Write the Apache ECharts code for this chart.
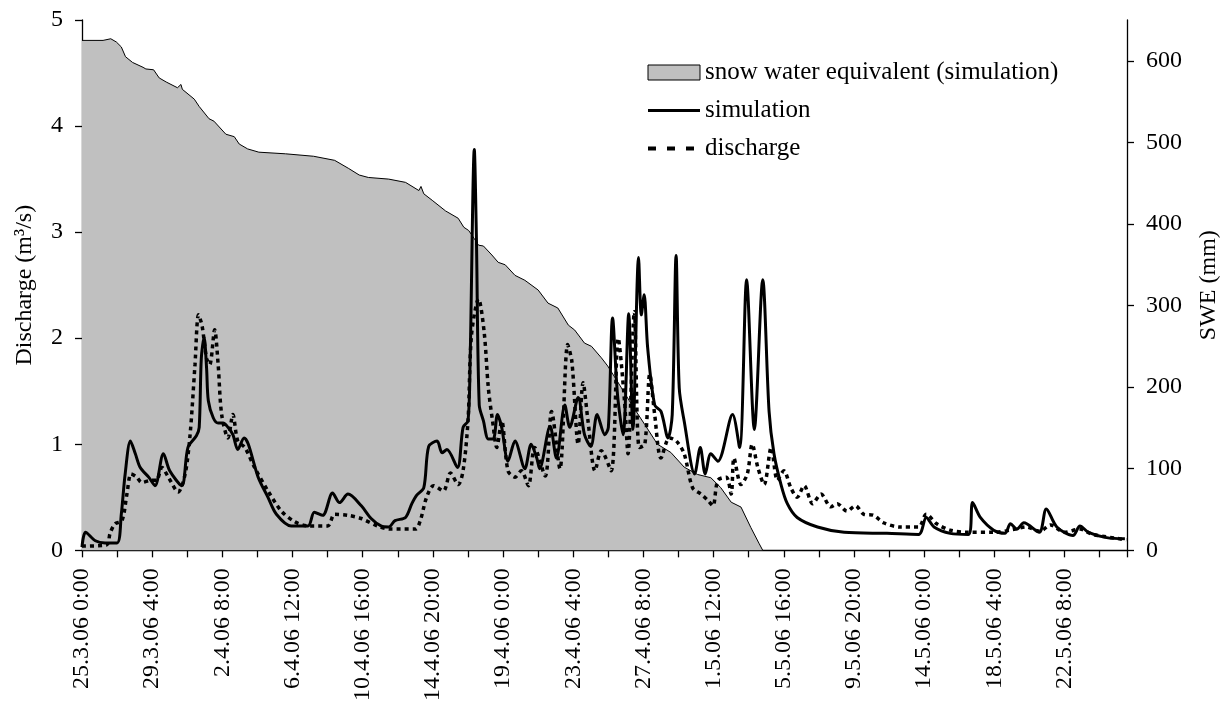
<!DOCTYPE html>
<html>
<head>
<meta charset="utf-8">
<title>Discharge and SWE</title>
<script src="https://cdn.jsdelivr.net/npm/echarts@6/dist/echarts.min.js"></script>
<style>
  html, body { margin: 0; padding: 0; background: #fff; }
  #chart { width: 1229px; height: 704px; }
</style>
</head>
<body>
<div id="chart"></div>
<script>
// x values are hours since 25.3.06 0:00
const tickLabels = [
  "25.3.06 0:00", "29.3.06 4:00", "2.4.06 8:00", "6.4.06 12:00", "10.4.06 16:00",
  "14.4.06 20:00", "19.4.06 0:00", "23.4.06 4:00", "27.4.06 8:00", "1.5.06 12:00",
  "5.5.06 16:00", "9.5.06 20:00", "14.5.06 0:00", "18.5.06 4:00", "22.5.06 8:00"
];

// snow water equivalent (mm), right axis
const swe = [
  [0, 625], [30, 625], [41, 627], [49, 623], [56, 617], [62, 605], [72, 598], [87, 592],
  [91, 590], [102, 589], [110, 579], [120, 574], [136, 567], [141, 571], [143, 565],
  [160, 553], [167, 544], [181, 529], [188, 526], [205, 510], [217, 507], [224, 498],
  [236, 492], [252, 488], [290, 486], [330, 483], [360, 478], [380, 468], [395, 460],
  [408, 457], [437, 455], [461, 451], [480, 441], [483, 446], [487, 437], [499, 429],
  [518, 416], [536, 407], [544, 396], [551, 392], [559, 382], [565, 374], [572, 373],
  [584, 362], [593, 353], [603, 350], [617, 337], [631, 331], [650, 319], [664, 303],
  [678, 297], [693, 276], [702, 270], [716, 254], [726, 250], [740, 236], [749, 226],
  [768, 200], [783, 179], [802, 154], [820, 130], [839, 120], [858, 102], [877, 93],
  [896, 89], [910, 77], [925, 59], [939, 53], [953, 28], [965, 8], [970, 0]
];

// simulated discharge (m3/s)
const simulation = [
  [0, 0.03], [5, 0.17], [19, 0.09], [33, 0.07], [50, 0.07], [56, 0.34], [61.5, 0.72],
  [69, 1.03], [76, 0.91], [83, 0.78], [95, 0.69], [104, 0.61], [116, 0.91], [125, 0.75],
  [142, 0.61], [151, 0.97], [163, 1.08], [167, 1.16], [170, 1.81], [174, 2.01],
  [177.5, 1.72], [180, 1.41], [187, 1.25], [194, 1.2], [201, 1.2], [208, 1.16],
  [215, 1.09], [222, 0.95], [231, 1.06], [237, 1.0], [251, 0.69], [265, 0.5], [277, 0.34],
  [298, 0.23], [322, 0.23], [331, 0.36], [343, 0.33], [357, 0.54], [367, 0.45],
  [379, 0.53], [398, 0.42], [412, 0.3], [426, 0.23], [437, 0.22], [446, 0.28],
  [461, 0.31], [470, 0.44], [477, 0.52], [487, 0.59], [494, 0.98], [506, 1.03],
  [513, 0.92], [520, 0.95], [535, 0.78], [543, 1.16], [550, 1.22], [553, 1.78],
  [559, 3.78], [562, 2.94], [566, 1.37], [572, 1.22], [579, 1.05], [586, 1.05],
  [592, 1.28], [598, 1.16], [607, 0.84], [617, 1.03], [631, 0.77], [640, 1.0],
  [648, 0.87], [652, 0.77], [667, 1.17], [676, 0.87], [688, 1.37], [695, 1.16],
  [707, 1.44], [716, 1.09], [725, 0.98], [734, 1.28], [745, 1.09], [750, 1.16],
  [756, 2.19], [763, 1.47], [771, 1.09], [779, 2.23], [785, 1.14], [793, 2.76],
  [797, 2.22], [801, 2.41], [806, 1.91], [816, 1.37], [825, 1.31], [835, 1.06],
  [841, 1.28], [846.5, 2.78], [851, 1.53], [858, 1.22], [873, 0.72], [881, 0.97],
  [888, 0.72], [896, 0.91], [906, 0.84], [927, 1.28], [937, 0.97], [947, 2.55],
  [958, 1.14], [970, 2.55], [979, 1.31], [986, 0.91], [996, 0.62], [1005, 0.44],
  [1019, 0.31], [1048, 0.22], [1086, 0.17], [1147, 0.16], [1192, 0.15], [1203, 0.31],
  [1214, 0.22], [1237, 0.16], [1263, 0.15], [1269, 0.45], [1280, 0.31], [1299, 0.19],
  [1315, 0.16], [1323, 0.25], [1332, 0.2], [1342, 0.26], [1364, 0.17], [1374, 0.39],
  [1389, 0.22], [1412, 0.14], [1422, 0.23], [1434, 0.17], [1460, 0.12], [1486, 0.11]
];

// measured discharge (m3/s)
const discharge = [
  [0, 0.04], [35, 0.05], [40, 0.16], [47, 0.25], [57, 0.28], [64, 0.53], [70, 0.72],
  [78, 0.69], [85, 0.64], [99, 0.66], [106, 0.66], [114, 0.78], [123, 0.69], [137, 0.55],
  [147, 0.72], [154, 1.09], [161, 1.75], [166, 2.22], [171, 2.12], [177.5, 1.81],
  [182, 1.75], [189, 2.08], [194, 1.75], [199, 1.28], [208, 1.06], [215, 1.28],
  [222, 1.03], [232, 0.97], [246, 0.78], [265, 0.56], [284, 0.37], [303, 0.27],
  [322, 0.23], [350, 0.23], [360, 0.34], [379, 0.33], [398, 0.3], [421, 0.23],
  [440, 0.2], [475, 0.2], [482, 0.28], [491, 0.5], [501, 0.61], [515, 0.56], [525, 0.73],
  [536, 0.62], [543, 0.75], [550, 1.22], [555, 2.03], [565, 2.37], [573, 2.06],
  [579, 1.53], [585, 1.22], [591, 0.97], [598, 1.22], [607, 0.75], [617, 0.69],
  [626, 0.75], [636, 0.61], [645, 0.97], [660, 0.7], [669, 1.31], [681, 0.77],
  [692, 1.94], [698, 1.78], [707, 1.0], [714, 1.58], [721, 1.22], [731, 0.75],
  [740, 0.94], [754, 0.75], [764, 2.0], [773, 1.41], [778, 0.91], [787, 2.25],
  [794, 0.97], [802, 1.0], [809, 1.66], [816, 1.28], [825, 0.87], [837, 1.06],
  [847, 1.03], [858, 0.91], [870, 0.59], [882, 0.53], [892, 0.47], [899, 0.42],
  [906, 0.66], [918, 0.69], [925, 0.53], [929, 0.87], [939, 0.62], [948, 0.72],
  [955, 1.0], [963, 0.78], [972, 0.62], [982, 0.97], [991, 0.66], [1000, 0.75],
  [1010, 0.59], [1019, 0.5], [1029, 0.61], [1041, 0.44], [1053, 0.53], [1067, 0.41],
  [1076, 0.44], [1090, 0.37], [1102, 0.42], [1114, 0.34], [1128, 0.33], [1142, 0.26],
  [1166, 0.22], [1192, 0.22], [1203, 0.34], [1218, 0.25], [1237, 0.19], [1261, 0.17],
  [1300, 0.17], [1330, 0.2], [1345, 0.22], [1365, 0.18], [1380, 0.24], [1400, 0.17],
  [1422, 0.2], [1440, 0.15], [1488, 0.1]
];

const FONT = "Liberation Serif";
const axisLine = { show: true, lineStyle: { color: "#000", width: 1.3 } };
const axisTick = { show: true, inside: false, length: 7, lineStyle: { color: "#000", width: 1.3 } };

const chart = echarts.init(document.getElementById("chart"));
chart.setOption({
  animation: false,
  backgroundColor: "#fff",
  textStyle: { fontFamily: FONT, color: "#000" },
  grid: { left: 82, right: 98, top: 20, bottom: 151, containLabel: false },
  legend: {
    orient: "vertical",
    left: 646,
    top: 60,
    padding: 0,
    itemWidth: 52,
    itemHeight: 15,
    itemGap: 13,
    textStyle: { fontFamily: FONT, fontSize: 25, color: "#000", lineHeight: 25 },
    data: [
      {
        name: "snow water equivalent (simulation)",
        icon: "rect",
        itemStyle: { color: "#c0c0c0", borderColor: "#000", borderWidth: 1 }
      },
      {
        name: "simulation",
        itemStyle: { opacity: 0 },
        lineStyle: { width: 3, type: "solid", opacity: 1 }
      },
      {
        name: "discharge",
        itemStyle: { opacity: 0 },
        lineStyle: { width: 4, type: [8, 11], opacity: 1 }
      }
    ]
  },
  xAxis: {
    type: "value",
    min: 0,
    max: 1489,
    interval: 50,
    axisLine: axisLine,
    axisTick: axisTick,
    splitLine: { show: false },
    axisLabel: {
      rotate: 90,
      margin: 18,
      fontFamily: FONT,
      fontSize: 24,
      color: "#000",
      formatter: function (v) {
        const i = v / 100;
        return Number.isInteger(i) && tickLabels[i] ? tickLabels[i] : "";
      }
    }
  },
  yAxis: [
    {
      type: "value",
      min: 0,
      max: 5,
      interval: 1,
      name: "Discharge (m³/s)",
      nameLocation: "middle",
      nameGap: 45,
      nameTextStyle: { fontFamily: FONT, fontSize: 24, color: "#000" },
      axisLine: axisLine,
      axisTick: axisTick,
      splitLine: { show: false },
      axisLabel: { margin: 19, fontFamily: FONT, fontSize: 24, color: "#000" }
    },
    {
      type: "value",
      position: "right",
      min: 0,
      max: 650,
      interval: 100,
      name: "SWE (mm)",
      nameLocation: "middle",
      nameGap: 70,
      nameTextStyle: { fontFamily: FONT, fontSize: 24, color: "#000" },
      axisLine: axisLine,
      axisTick: Object.assign({}, axisTick, { customValues: [0, 100, 200, 300, 400, 500, 600] }),
      splitLine: { show: false },
      axisLabel: {
        margin: 19,
        fontFamily: FONT,
        fontSize: 24,
        color: "#000",
        formatter: function (v) { return v > 600 ? "" : String(v); }
      }
    }
  ],
  series: [
    {
      name: "snow water equivalent (simulation)",
      type: "line",
      yAxisIndex: 1,
      data: swe,
      symbol: "none",
      z: 1,
      lineStyle: { color: "#000", width: 1 },
      itemStyle: { color: "#c0c0c0" },
      areaStyle: { color: "#c0c0c0", opacity: 1 }
    },
    {
      name: "discharge",
      type: "line",
      data: discharge,
      symbol: "none",
      smooth: 0.3,
      z: 3,
      itemStyle: { color: "#000" },
      lineStyle: { color: "#000", width: 3.5, type: [4, 4] }
    },
    {
      name: "simulation",
      type: "line",
      data: simulation,
      symbol: "none",
      smooth: 0.3,
      z: 4,
      itemStyle: { color: "#000" },
      lineStyle: { color: "#000", width: 3 }
    }
  ]
});
</script>
</body>
</html>
